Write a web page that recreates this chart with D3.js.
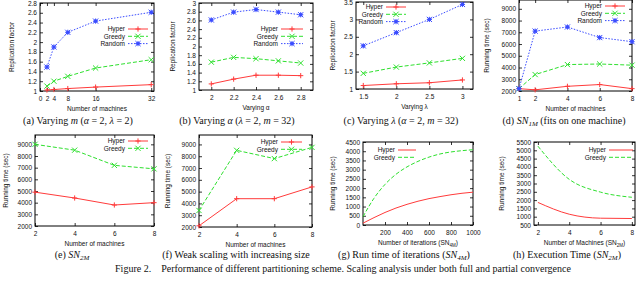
<!DOCTYPE html>
<html>
<head>
<meta charset="utf-8">
<script src="https://cdn.jsdelivr.net/npm/d3@7"></script>
<style>
  body { margin: 0; background: #fff; }
  svg text { font-family: "Liberation Sans", Arial, sans-serif; }
  .cap { font-family: "Liberation Serif", "Times New Roman", serif; font-size: 10px; white-space: pre; }
</style>
</head>
<body>
<div id="chart"></div>
<script>
// ---- data ----
// (a) varying m
const machinesA = [2, 4, 8, 16, 32];
const hyperA  = [1.02, 1.03, 1.05, 1.08, 1.13];
const greedyA = [1.10, 1.20, 1.30, 1.47, 1.64];
const randomA = [1.49, 1.90, 2.20, 2.43, 2.61];
const xTicksA = [0, 2, 4, 8, 16, 32];
const yTicksA = [1, 1.2, 1.4, 1.6, 1.8, 2, 2.2, 2.4, 2.6, 2.8];

// (b) varying alpha
const alphaB  = [2, 2.2, 2.4, 2.6, 2.8];
const hyperB  = [1.14, 1.25, 1.34, 1.34, 1.33];
const greedyB = [1.64, 1.75, 1.72, 1.67, 1.62];
const randomB = [2.61, 2.79, 2.85, 2.79, 2.73];
const xTicksB = [2, 2.2, 2.4, 2.6, 2.8];
const yTicksB = [1, 1.2, 1.4, 1.6, 1.8, 2, 2.2, 2.4, 2.6, 2.8, 3];

// (c) varying lambda
const lambdaC = [1.5, 2, 2.5, 3];
const hyperC  = [1.10, 1.15, 1.18, 1.26];
const greedyC = [1.45, 1.63, 1.75, 1.88];
const randomC = [2.24, 2.62, 3.00, 3.43];
const xTicksC = [1.5, 2, 2.5, 3];
const yTicksC = [1, 1.5, 2, 2.5, 3, 3.5];

// (d) SN1M
const machinesD = [1, 2, 4, 6, 8];
const hyperD  = [2200, 2100, 2400, 2550, 2200];
const greedyD = [2200, 3400, 4250, 4300, 4200];
const randomD = [2200, 7100, 7450, 6550, 6200];
const xTicksD = [1, 2, 4, 6, 8];
const yTicksD = [2000, 3000, 4000, 5000, 6000, 7000, 8000, 9000];

// (e) SN2M
const machinesE = [2, 4, 6, 8];
const hyperE  = [4900, 4400, 3800, 4000];
const greedyE = [9000, 8500, 7200, 6900];
const xTicksE = [2, 4, 6, 8];
const yTicksE = [2000, 3000, 4000, 5000, 6000, 7000, 8000, 9000];

// (f) weak scaling
const machinesF = [2, 4, 6, 8];
const hyperF  = [2100, 4400, 4400, 5400];
const greedyF = [3400, 8500, 7800, 8750];
const xTicksF = [2, 4, 6, 8];
const yTicksF = [2000, 3000, 4000, 5000, 6000, 7000, 8000, 9000];

// (g) run time of iterations
const itersG  = [0, 100, 200, 300, 400, 500, 600, 700, 800, 900, 1000];
const hyperG  = [100, 400, 680, 920, 1120, 1290, 1430, 1540, 1640, 1720, 1780];
const greedyG = [450, 1450, 2200, 2750, 3150, 3450, 3680, 3850, 3960, 4030, 4080];
const xTicksG = [200, 400, 600, 800, 1000];
const yTicksG = [0, 500, 1000, 1500, 2000, 2500, 3000, 3500, 4000, 4500];

// (h) execution time
const machinesH = [2, 4, 6, 8];
const hyperH  = [1860, 1150, 910, 890];
const greedyH = [5250, 3250, 2480, 2170];
const xTicksH = [2, 4, 6, 8];
const yTicksH = [500, 1000, 1500, 2000, 2500, 3000, 3500, 4000, 4500, 5000, 5500];

const seriesNames = ["Hyper", "Greedy", "Random"];

const svg = d3.select("#chart").append("svg")
    .attr("width", 640)
    .attr("height", 283);

const styles = {
    Hyper:  { color: "#ff3b3b", dash: null,    mark: "plus" },
    Greedy: { color: "#2ee02e", dash: "4,2",   mark: "cross" },
    Random: { color: "#3a4cff", dash: "1.5,1.5", mark: "star" }
};

const FS = 6.5;

function marker(g, kind, cx, cy, color) {
    const s = 2.6;
    if (kind === "plus" || kind === "star") {
        g.append("path").attr("d", `M${cx - s},${cy}H${cx + s}M${cx},${cy - s}V${cy + s}`)
            .attr("stroke", color).attr("stroke-width", 1).attr("fill", "none");
    }
    if (kind === "cross" || kind === "star") {
        g.append("path").attr("d", `M${cx - s},${cy - s}L${cx + s},${cy + s}M${cx - s},${cy + s}L${cx + s},${cy - s}`)
            .attr("stroke", color).attr("stroke-width", 1).attr("fill", "none");
    }
    if (kind === "star") {
        g.append("rect").attr("x", cx - 1.5).attr("y", cy - 1.5).attr("width", 3).attr("height", 3).attr("fill", color);
    }
}

function drawPanel(cfg) {
    const g = svg.append("g");
    const x = d3.scaleLinear().domain(cfg.xDomain).range([cfg.left, cfg.right]);
    const y = d3.scaleLinear().domain(cfg.yDomain).range([cfg.bottom, cfg.top]);

    // inward ticks on all four sides, gnuplot style
    const fmt = d => String(d);
    g.append("g").attr("transform", `translate(0,${cfg.bottom})`)
        .call(d3.axisBottom(x).tickValues(cfg.xTicks).tickSize(-3).tickPadding(5).tickFormat(fmt));
    g.append("g").attr("transform", `translate(0,${cfg.top})`)
        .call(d3.axisTop(x).tickValues(cfg.xTicks).tickSize(-3).tickFormat(""));
    g.append("g").attr("transform", `translate(${cfg.left},0)`)
        .call(d3.axisLeft(y).tickValues(cfg.yTicks).tickSize(-3).tickPadding(3).tickFormat(fmt));
    g.append("g").attr("transform", `translate(${cfg.right},0)`)
        .call(d3.axisRight(y).tickValues(cfg.yTicks).tickSize(-3).tickFormat(""));
    g.selectAll(".domain").remove();
    g.selectAll(".tick line").attr("stroke", "#000").attr("stroke-width", 0.8);
    g.selectAll(".tick text").attr("font-size", FS).attr("font-family", "Liberation Sans, Arial, sans-serif").attr("fill", "#111");

    g.append("rect")
        .attr("x", cfg.left).attr("y", cfg.top)
        .attr("width", cfg.right - cfg.left).attr("height", cfg.bottom - cfg.top)
        .attr("fill", "none").attr("stroke", "#000").attr("stroke-width", 1);

    // series
    cfg.series.forEach((vals, i) => {
        const name = seriesNames[i];
        const st = styles[name];
        const pts = cfg.xs.map((xv, j) => [xv, vals[j]]);
        const line = d3.line().x(d => x(d[0])).y(d => y(d[1]));
        if (cfg.smooth) line.curve(d3.curveMonotoneX);
        g.append("path").datum(pts).attr("d", line)
            .attr("fill", "none").attr("stroke", st.color).attr("stroke-width", 1)
            .attr("stroke-dasharray", st.dash);
        if (cfg.markers) pts.forEach(p => marker(g, st.mark, x(p[0]), y(p[1]), st.color));
    });

    // legend
    cfg.series.forEach((vals, i) => {
        const name = seriesNames[i];
        const st = styles[name];
        const ly = cfg.legY + i * 7.3;
        g.append("text").attr("x", cfg.legX).attr("y", ly).attr("dy", "0.35em")
            .attr("text-anchor", "end").attr("font-size", FS).attr("fill", "#111").text(name);
        g.append("line").attr("x1", cfg.legX + 3).attr("x2", cfg.legX + 3 + cfg.legLen)
            .attr("y1", ly).attr("y2", ly)
            .attr("stroke", st.color).attr("stroke-width", 1).attr("stroke-dasharray", st.dash);
        if (cfg.markers) marker(g, st.mark, cfg.legX + 3 + cfg.legLen / 2, ly, st.color);
    });

    // axis titles
    const xt = g.append("text").attr("x", (cfg.left + cfg.right) / 2).attr("y", cfg.bottom + 20)
        .attr("text-anchor", "middle").attr("font-size", FS).attr("fill", "#111");
    cfg.xTitle.forEach(s => {
        const t = xt.append("tspan").text(s[0]);
        if (s[1] === "sub") t.attr("font-size", 4.5).attr("baseline-shift", "-1.5px");
    });
    g.append("text")
        .attr("transform", `translate(${cfg.yTitleX},${(cfg.top + cfg.bottom) / 2}) rotate(-90)`)
        .attr("dy", "0.35em").attr("text-anchor", "middle").attr("font-size", FS).attr("fill", "#111")
        .text(cfg.yTitle);

    // caption
    const cap = svg.append("text").attr("class", "cap").attr("x", cfg.capX).attr("y", cfg.capY)
        .attr("text-anchor", "middle").attr("fill", "#111");
    cfg.caption.forEach(s => {
        const t = cap.append("tspan").text(s[0]);
        if (s[1] === "i") t.attr("font-style", "italic");
        if (s[1] === "sub") t.attr("font-style", "italic").attr("font-size", 7).attr("baseline-shift", "-1.5px");
    });
}

drawPanel({
    left: 40, right: 154, top: 3, bottom: 91,
    xDomain: [0, 32.8], yDomain: [1, 2.8], xTicks: xTicksA, yTicks: yTicksA,
    xs: machinesA, series: [hyperA, greedyA, randomA], markers: true,
    legX: 125, legY: 29, legLen: 20,
    xTitle: [["Number of machines"]], yTitle: "Replication factor", yTitleX: 12,
    caption: [["(a) Varying "], ["m", "i"], [" ("], ["α", "i"], [" = 2, "], ["λ", "i"], [" = 2)"]],
    capX: 78, capY: 124
});
drawPanel({
    left: 199, right: 313, top: 3, bottom: 90,
    xDomain: [1.89, 2.91], yDomain: [1, 3], xTicks: xTicksB, yTicks: yTicksB,
    xs: alphaB, series: [hyperB, greedyB, randomB], markers: true,
    legX: 278, legY: 29, legLen: 22,
    xTitle: [["Varying α"]], yTitle: "Replication factor", yTitleX: 173,
    caption: [["(b) Varying "], ["α", "i"], [" ("], ["λ", "i"], [" = 2, "], ["m", "i"], [" = 32)"]],
    capX: 237, capY: 124
});
drawPanel({
    left: 356, right: 473, top: 2, bottom: 89,
    xDomain: [1.39, 3.16], yDomain: [1, 3.5], xTicks: xTicksC, yTicks: yTicksC,
    xs: lambdaC, series: [hyperC, greedyC, randomC], markers: true,
    legX: 383, legY: 7, legLen: 20,
    xTitle: [["Varying λ"]], yTitle: "Replication factor", yTitleX: 333,
    caption: [["(c) Varying "], ["λ", "i"], [" ("], ["α", "i"], [" = 2, "], ["m", "i"], [" = 32)"]],
    capX: 401, capY: 124
});
drawPanel({
    left: 519, right: 632, top: 0, bottom: 91,
    xDomain: [1, 8], yDomain: [2000, 9750], xTicks: xTicksD, yTicks: yTicksD,
    xs: machinesD, series: [hyperD, greedyD, randomD], markers: true,
    legX: 602, legY: 6, legLen: 20,
    xTitle: [["Number of machines"]], yTitle: "Running time (sec)", yTitleX: 487,
    caption: [["(d) "], ["SN", "i"], ["1M", "sub"], [" (fits on one machine)"]],
    capX: 564, capY: 124
});
drawPanel({
    left: 35, right: 154, top: 135, bottom: 226,
    xDomain: [2, 8], yDomain: [2000, 9800], xTicks: xTicksE, yTicks: yTicksE,
    xs: machinesE, series: [hyperE, greedyE], markers: true,
    legX: 125, legY: 141, legLen: 20,
    xTitle: [["Number of machines"]], yTitle: "Running time (sec)", yTitleX: 6,
    caption: [["(e) "], ["SN", "i"], ["2M", "sub"]],
    capX: 72, capY: 258
});
drawPanel({
    left: 199, right: 312, top: 135, bottom: 227,
    xDomain: [2, 8], yDomain: [2000, 9800], xTicks: xTicksF, yTicks: yTicksF,
    xs: machinesF, series: [hyperF, greedyF], markers: true,
    legX: 278, legY: 142, legLen: 21,
    xTitle: [["Number of machines"]], yTitle: "Running time (sec)", yTitleX: 168,
    caption: [["(f) Weak scaling with increasing size"]],
    capX: 236, capY: 258
});
drawPanel({
    left: 363, right: 473, top: 142, bottom: 225,
    xDomain: [0, 1000], yDomain: [0, 4500], xTicks: xTicksG, yTicks: yTicksG,
    xs: itersG, series: [hyperG, greedyG], markers: false, smooth: true,
    legX: 395, legY: 150, legLen: 18,
    xTitle: [["Number of iterations (SN"], ["4M", "sub"], [")"]], yTitle: "Running time (sec)", yTitleX: 333,
    caption: [["(g) Run time of iterations ("], ["SN", "i"], ["4M", "sub"], [")"]],
    capX: 404, capY: 258
});
drawPanel({
    left: 534, right: 635, top: 142, bottom: 225,
    xDomain: [1.75, 8.2], yDomain: [500, 5500], xTicks: xTicksH, yTicks: yTicksH,
    xs: machinesH, series: [hyperH, greedyH], markers: false, smooth: true,
    legX: 606, legY: 150, legLen: 24,
    xTitle: [["Number of Machines (SN"], ["2M", "sub"], [")"]], yTitle: "Running time (sec)", yTitleX: 502,
    caption: [["(h) Execution Time ("], ["SN", "i"], ["2M", "sub"], [")"]],
    capX: 567, capY: 258
});

svg.append("text").attr("class", "cap").attr("x", 343).attr("y", 272)
    .attr("text-anchor", "middle").attr("fill", "#111")
    .text("Figure 2.\u2002\u2002Performance of different partitioning scheme. Scaling analysis under both full and partial convergence");
</script>
</body>
</html>
